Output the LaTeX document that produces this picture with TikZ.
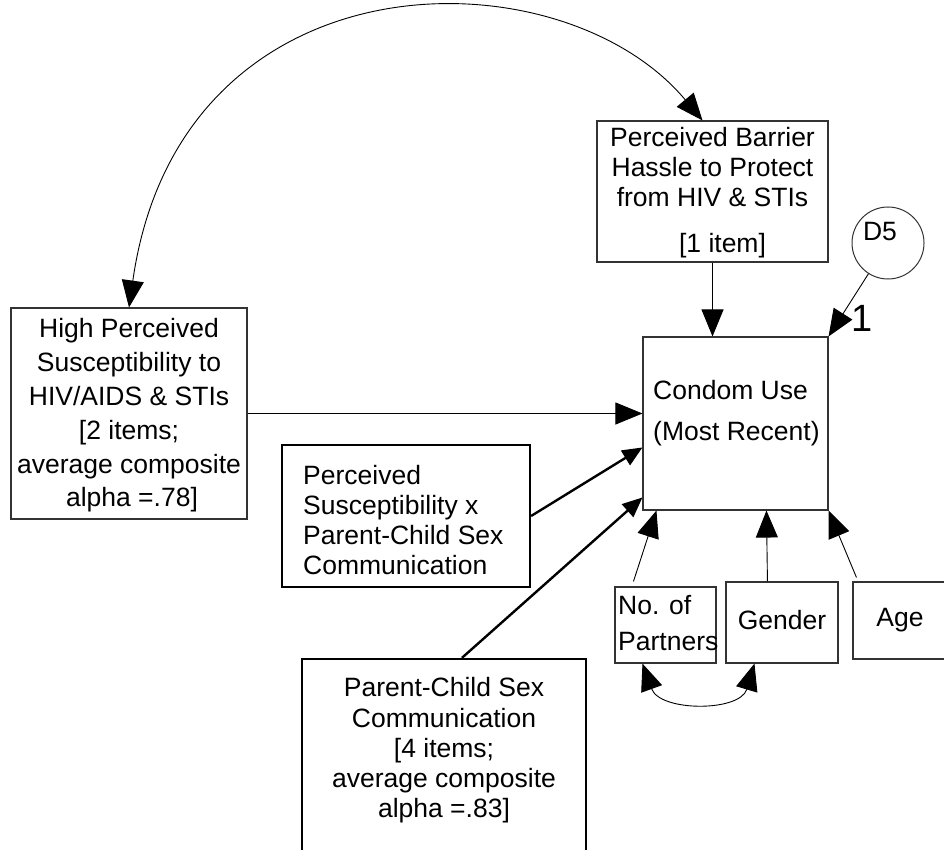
\documentclass[tikz,border=0pt]{standalone}
\usepackage{fontspec}
\setmainfont{Liberation Sans}
\usetikzlibrary{arrows.meta,calc}
\tikzset{
  box/.style={draw=black!80, line width=1.1pt, inner sep=0pt},
  thickbox/.style={draw=black, line width=2.2pt, inner sep=0pt},
  txt/.style={inner sep=0pt, font=\fontsize{26.5}{30}\selectfont},
  thinarr/.style={line width=0.9pt, -{Triangle[length=27pt,width=22pt]}},
  thickarr/.style={line width=2.4pt, -{Triangle[length=20pt,width=17pt]}},
  dblarr/.style={line width=0.9pt, {Triangle[length=27pt,width=22pt]}-{Triangle[length=27pt,width=22pt]}},
}
\begin{document}
\begin{tikzpicture}[x=1pt,y=-1pt]
\useasboundingbox (0,0) rectangle (944,850);
\clip (0,0) rectangle (944,850);
\fill[white] (0,0) rectangle (944,850);

% boxes
\node[box, minimum width=231pt, minimum height=141pt] (bar) at (712.5,191.5) {};
\node[box, minimum width=185pt, minimum height=173pt] (cu) at (735.5,423.5) {};
\node[box, minimum width=236pt, minimum height=211pt] (hps) at (129,413.5) {};
\node[thickbox, minimum width=248pt, minimum height=142pt] (ixn) at (406,516) {};
\node[thickbox, minimum width=284pt, minimum height=221pt] (pcsc) at (444,769.5) {};
\node[box, minimum width=101pt, minimum height=76pt] (ptn) at (665.5,625) {};
\node[box, minimum width=112pt, minimum height=81pt] (gen) at (782,622.5) {};
\node[box, minimum width=107pt, minimum height=77pt] (age) at (906.5,620.5) {};
\node[draw=black!80, line width=1pt, circle, minimum size=72pt, inner sep=0pt] (d5) at (888,243) {};

% texts
\node[txt, align=center] (barT) at (712.5,193) {Perceived Barrier\\Hassle to Protect\\from HIV \& STIs\\[16pt]\hspace*{20pt}{[}1 item]};
\node[txt, align=center, font=\fontsize{26.5}{33.8}\selectfont] (hpsT) at (129,415.5) {High Perceived\\Susceptibility to\\HIV/AIDS \& STIs\\{[}2 items;\\average composite\\\hspace*{6pt}alpha =.78]};
\node[txt, align=left, anchor=west, font=\fontsize{26.5}{30.3}\selectfont] (ixnT) at (303,520) {Perceived\\Susceptibility x\\Parent-Child Sex\\Communication};
\node[txt, align=center, font=\fontsize{26.5}{30.25}\selectfont] (pcscT) at (444,750.5) {Parent-Child Sex\\Communication\\{[}4 items;\\average composite\\alpha =.83]};
\node[txt, align=left, anchor=west, font=\fontsize{26.5}{41}\selectfont] (cuT) at (653,413) {Condom Use\\(Most Recent)};
\node[txt, align=left, anchor=west, font=\fontsize{26.5}{36}\selectfont] (ptnT) at (618,623) {No. of\\Partners};
\node[txt] (genT) at (782,620.5) {Gender};
\node[txt] (ageT) at (900,620.5) {Age};
\node[txt] (d5T) at (880,232) {D5};
\node[inner sep=0pt, font=\fontsize{38}{40}\selectfont] (one) at (862,318) {1};

% connectors
\draw[dblarr] (hps.north) .. controls (180,-50) and (560,-50) .. ($(bar.north)+(-10,0)$);
\draw[thinarr] (bar.south) -- (bar.south |- cu.north);
\draw[thinarr] (d5) -- (cu.north east);
\draw[thinarr] (hps.east) -- (hps.east -| cu.west);
\draw[thickarr] (ixn.east) -- ($(cu.north west)+(0,111)$);
\draw[thickarr] ($(pcsc.north west)+(161,0)$) -- ($(cu.north west)+(0,161)$);
\draw[thinarr] ($(ptn.north west)+(19,-5)$) -- ($(cu.south west)+(14,0)$);
\draw[thinarr] ($(gen.north west)+(42,0)$) -- ($(cu.south west)+(124,0)$);
\draw[thinarr] ($(age.north west)+(4,-4)$) -- (cu.south east);
\draw[dblarr] ($(ptn.south west)+(28,0)$) .. controls (660,712) and (740,712) .. ($(gen.south west)+(29,0)$);
\end{tikzpicture}
\end{document}
